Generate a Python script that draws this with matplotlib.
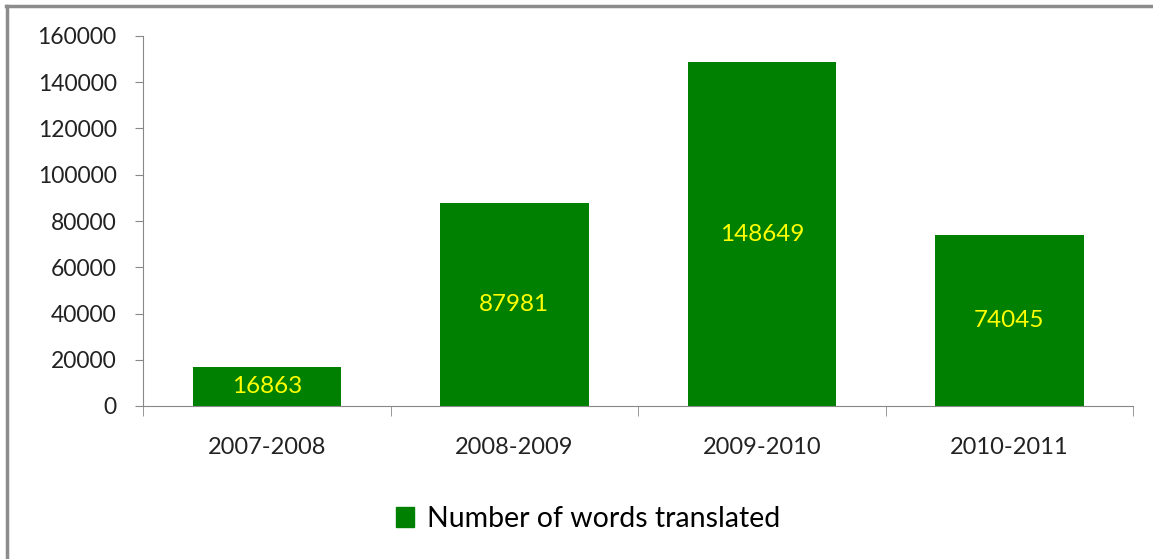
import numpy as np
import matplotlib.pyplot as plt
from matplotlib.patches import Rectangle
from matplotlib.lines import Line2D

# datos
years = ['2007-2008', '2008-2009', '2009-2010', '2010-2011']
words = [16863, 87981, 148649, 74045]
yticks = [0, 20000, 40000, 60000, 80000, 100000, 120000, 140000, 160000]

plt.rcParams['font.family'] = ['Lato', 'DejaVu Sans']

fig = plt.figure(figsize=(11.53, 5.59), dpi=100)
ax = fig.add_axes([143 / 1153, 1 - 406 / 559, 990 / 1153, 370 / 559])

x = np.arange(len(years))
bars = ax.bar(x, words, width=0.6, color='#008000', label='Number of words translated')

# etiquetas amarillas dentro de las barras
for b, v in zip(bars, words):
    ax.text(b.get_x() + b.get_width() / 2, v / 2, str(v), ha='center', va='center',
            color='#FFFF00', fontsize=17.5)

ax.set_xlim(-0.5, len(years) - 0.5)
ax.set_ylim(0, 160000)
ax.set_yticks(yticks)
ax.set_yticklabels([str(t) for t in yticks], fontsize=16.5, color='#222222')
ax.set_xticks(x)
ax.set_xticklabels(years, fontsize=17, color='#222222')
ax.tick_params(axis='x', length=0, pad=22)
ax.tick_params(axis='y', length=6, color='#888888', pad=13)
ax.set_xticks(np.arange(-0.5, len(years)), minor=True)
ax.tick_params(axis='x', which='minor', length=7, color='#888888')

for s in ['top', 'right']:
    ax.spines[s].set_visible(False)
for s in ['left', 'bottom']:
    ax.spines[s].set_color('#888888')

# leyenda
fig.legend(handles=[Rectangle((0, 0), 1, 1, color='#008000')],
           labels=['Number of words translated'], loc='center',
           bbox_to_anchor=(588 / 1153, 1 - 519 / 559), frameon=False,
           fontsize=20.5, handlelength=0.65, handleheight=0.65, handletextpad=0.45)

# marco gris del gráfico
fig.add_artist(Line2D([6 / 1153, 1], [1 - 6 / 559, 1 - 6 / 559], color='#8c8c8c', lw=2.5,
                      transform=fig.transFigure))
fig.add_artist(Line2D([7 / 1153, 7 / 1153], [0, 1 - 6 / 559], color='#8c8c8c', lw=2.5,
                      transform=fig.transFigure))

fig.savefig('out.png', dpi=100)
